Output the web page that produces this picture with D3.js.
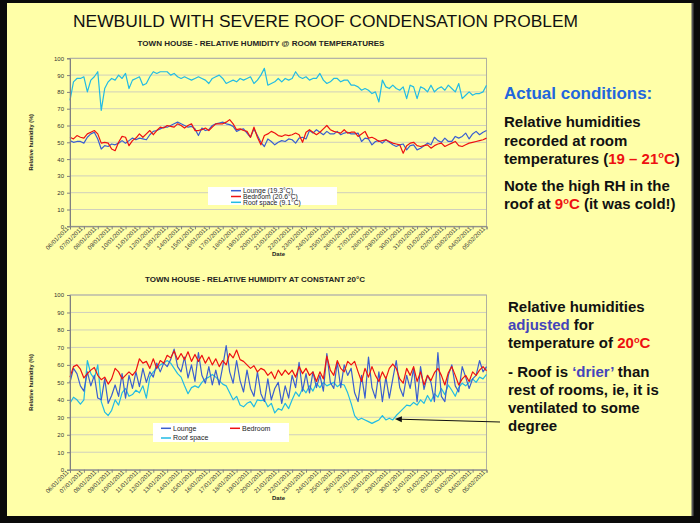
<!DOCTYPE html>
<html><head><meta charset="utf-8">
<script src="https://cdn.jsdelivr.net/npm/d3@7"></script>
<style>
body{margin:0;background:#000;}
svg{display:block;}
text{font-family:"Liberation Sans",Arial,Helvetica,sans-serif;}
</style>
</head><body>
<svg id="c" width="700" height="523"></svg>
<script>
// ---------------- DATA ----------------
// Readings every 6 hours from 06/01/2011 00:00 to 05/02/2011 00:00 (121 points)
const startDate = new Date(2011, 0, 6);
const endDate = new Date(2011, 1, 5);
const samplesPerDay = 4;
const yTicks = [0,10,20,30,40,50,60,70,80,90,100];

// Chart 1: relative humidity at room temperatures
const topLounge = [51,50,50.5,50.5, 49.5,53,55,56, 52,46,48,47.5, 49,48.5,49.5,51, 49.5,51,52.5,51.5,
  52.5,52,51.5,54.5, 56.5,57,58,59, 59,60,61,62, 61,60,59,59.5, 58,54,58.5,57,
  57.5,60,61,61.5, 62,61,60.5,59.5, 56.5,57.5,58,55.5, 53,58,54,50, 47.5,52,50.5,48.5,
  50,51,50.5,52, 51.5,49.5,52.5,53, 52,57,55.5,57.5, 56,54.5,56.5,55, 55,56.5,54.5,55.5,
  56,55,55,55.5, 50.5,52.5,52,48.5, 50.5,51,49.5,51.5, 50,48.5,47.5,48.5, 49,45.5,48,48.5,
  45.5,46.5,48,49.5, 48.5,53,51,50, 52.5,50.5,50.5,53.5, 52.5,53.5,55.5,52, 55,56.5,54.5,56, 57];
const topBedroom = [53,52,54,53, 52.5,55,56,57, 55,49.5,50,49.5, 46,45,50,53.5, 53,48,51,52.5,
  55,53,55,57, 54.5,57,59,58.5, 60,59.5,59,61, 60,58.5,60,61, 57,57,57.5,58.5,
  57,59,61,61, 61,62,63.5,61, 57.5,58,57,56.5, 53,59,53,48.5, 54,55,56.5,55.5,
  54,53.5,54.5,54, 54.5,55.5,54.5,50, 56,57.5,56,54.5, 56,58,60,57.5, 56.5,56,55.5,57.5,
  55.5,56,56,53.5, 55,56.5,52.5,53, 52,50.5,51,51.5, 50.5,49.5,49,48.5, 43.5,48,49.5,50,
  48,47.5,48,48.5, 46.5,48,49,49.5, 47.5,48.5,49.5,50.5, 48,47.5,48.5,49.5, 50,50.5,51,51.5, 52.5];
const topRoof = [75,86,88,88, 89,80,87,89, 92,69,82,86, 88,87,90,88, 91,82,87,88,
  89,84,85,89, 92,91,92,92, 92,90,91,89, 88,89,88,87, 88,89,88,87,
  85,88,89,90, 88,85,86,87, 86,88,87,88, 89,85,87,90, 94,84,85,86,
  88,86,88,87, 88,92,89,88, 89,87,88,88, 91,87,85,86, 88,88,86,87,
  87,84,84,83, 81,82,81,79, 80,74,87,83, 82,84,82,81, 83,76,84,83,
  76,83,82,80, 84,80,82,83, 81,84,82,80, 85,76,78,80, 78,79,79,80, 84];

// Chart 2: relative humidity adjusted to constant 20°C
const botLounge = [50,58,55,48, 45,56,48,54, 41,40,52,38, 42.5,48.5,42,55, 41,54,46.5,56,
  47.5,58,50,56, 53,61,56,61, 59,63,69,59, 56,64.5,52.5,60, 50.5,67,54,49.5,
  59,48.5,57,48.5, 59,71,56,49.5, 62.5,51,44.5,57, 46.5,42,56,43.5, 39,52,40,46.5,
  50,38,48,41, 54,47,61.5,45, 55,44,56,47, 54,45,66.5,50, 46.5,61.5,47,60,
  54,58,44,39, 54,41,64.5,47, 41,56,39,53, 41,52,62.5,47, 42,54,46.5,58,
  39,59,46,54, 50,39,67,42, 39,54,60,48, 44.5,59,53,46.5, 52,54,62.5,56, 59];
const botBedroom = [53,59,60,57.5, 52.5,55,57,58.5, 54,51.5,53,49, 52,58,56,52, 54,56,54,56.5,
  63.5,61,62,58, 63.5,58,62.5,61, 65.5,64,68,63, 66.5,63,67.5,62, 66,62,65.5,61,
  64.5,60,63.5,59, 62.5,60,66.5,64, 68.5,63,62,60, 58,59.5,56,58, 57,54,56,52,
  57,54,57,54.5, 57,53,59,55, 58,54,56,50.5, 56,52,65,57, 54,62.5,58,56,
  62,60,62,56, 50.5,58,53,59, 54,50.5,56,52, 58,60.5,58,52, 49.5,58,54,59,
  50.5,56,48.5,54, 51,55.5,58,54, 48.5,55.5,59,54, 48.5,52,54,50.5, 56,54,57,59, 56.5];
const botRoof = [38,41.5,40,37.5, 40,62.5,55,52, 60,39,33,31, 34,40,37,44, 46.5,42,43,45.5,
  44,48,41,53, 56,58,60,61, 62.5,61,58,55, 53,48,43.5,47, 48,47,50,52,
  53,54.5,53,51, 49,48,44,40, 42,37,36,38, 39,36,40,39.5, 40,36,38,32.5,
  35,34,38,35, 40,44.5,42,46.5, 44,48,45,49.5, 47,50,48,49, 50,47.5,49,48.5,
  44,38,31,28.5, 29.5,28.5,27.5,26.5, 27.5,28.5,31,28.5, 29.5,28.5,31,33, 35,37,36.5,38.5,
  37,40,38,42.5, 39,43.5,41.5,46.5, 43,48.5,45.5,42, 47,49.5,48,50, 52,50,53,52, 54.5];

const topLegend = ["Lounge (19.3°C)", "Bedroom (20.6°C)", "Roof space (9.1°C)"];
const botLegend = ["Lounge", "Bedroom", "Roof space"];
const seriesColors = ["#3a5fd0", "#ee1111", "#22bbe4"];

// ---------------- DRAW ----------------
const svg = d3.select("#c");
svg.append("rect").attr("x",0).attr("y",0).attr("width",700).attr("height",523).attr("fill","#0a0a0a");
svg.append("rect").attr("x",7).attr("y",3).attr("width",685).attr("height",513).attr("fill","#ffffa8");
svg.append("line").attr("x1",692.5).attr("x2",692.5).attr("y1",3).attr("y2",516).attr("stroke","#555").attr("stroke-width",2);

svg.append("text").attr("x",73).attr("y",27).attr("font-size",17.4).attr("fill","#111")
  .text("NEWBUILD WITH SEVERE ROOF CONDENSATION PROBLEM");

const toDate = i => new Date(startDate.getTime() + i * 86400000 / samplesPerDay);
const dayTicks = d3.timeDay.range(startDate, d3.timeDay.offset(endDate, 1));
const fmt = d3.timeFormat("%d/%m/%Y");

function drawChart(o) {
  const g = svg.append("g");
  const x = d3.scaleTime().domain([startDate, endDate]).range([70, 486.5]);
  const y = d3.scaleLinear().domain([0, 100]).range([o.bottom, o.top]);

  g.append("g").selectAll("line").data(yTicks.slice(1)).join("line")
    .attr("x1", 70).attr("x2", 486.5).attr("y1", d => y(d)).attr("y2", d => y(d))
    .attr("stroke", "#cbcbbf").attr("stroke-width", 0.9);
  g.append("rect").attr("x",70).attr("y",o.top).attr("width",416.5).attr("height",o.bottom-o.top)
    .attr("fill","none").attr("stroke","#a8a8a0").attr("stroke-width",0.9);

  const line = d3.line().x((d, i) => x(toDate(i))).y(d => y(d));
  o.series.forEach((s, k) => {
    g.append("path").datum(s).attr("d", line).attr("fill", "none")
      .attr("stroke", seriesColors[o.order[k]]).attr("stroke-width", 1.2).attr("stroke-linejoin","round");
  });

  const ya = g.append("g").attr("transform", "translate(70,0)")
    .call(d3.axisLeft(y).tickValues(yTicks).tickSize(3).tickPadding(3));
  ya.select(".domain").attr("stroke", "#808080");
  ya.selectAll(".tick line").attr("stroke", "#808080");
  ya.selectAll("text").attr("font-size", 6).attr("fill", "#333").attr("font-family", null);

  const xa = g.append("g").attr("transform", `translate(0,${o.bottom})`)
    .call(d3.axisBottom(x).tickValues(dayTicks).tickFormat(fmt).tickSize(3));
  xa.select(".domain").attr("stroke", "#808080");
  xa.selectAll(".tick line").attr("stroke", "#808080");
  xa.selectAll("text").attr("font-size", 6).attr("fill", "#333").attr("font-family", null)
    .attr("text-anchor", "end").attr("x", -3).attr("y", -1).attr("dy", "0.35em")
    .attr("transform", "rotate(-45)");

  g.append("text").attr("x", o.titleX).attr("y", o.titleY).attr("text-anchor", "middle")
    .attr("font-size", 8).attr("font-weight", "bold").attr("fill", "#222").text(o.title);
  g.append("text").attr("x", 278.5).attr("y", o.bottom + 30).attr("text-anchor", "middle")
    .attr("font-size", 6).attr("font-weight", "bold").attr("fill", "#222").text("Date");
  g.append("text").attr("transform", `translate(33,${(o.top + o.bottom) / 2}) rotate(-90)`)
    .attr("text-anchor", "middle").attr("font-size", 5.6).attr("font-weight", "bold").attr("fill", "#222")
    .text("Relative humidity (%)");

  const L = o.legend;
  g.append("rect").attr("x", L.x).attr("y", L.y).attr("width", L.w).attr("height", L.h).attr("fill", "#fff");
  L.items.forEach((it, k) => {
    g.append("line").attr("x1", it.x).attr("x2", it.x + 10).attr("y1", it.y).attr("y2", it.y)
      .attr("stroke", seriesColors[k]).attr("stroke-width", 1.5);
    g.append("text").attr("x", it.x + 12).attr("y", it.y + 2.3).attr("font-size", L.fs)
      .attr("fill", "#222").text(L.labels[k]);
  });
  return {x, y};
}

drawChart({
  top: 58.3, bottom: 226.3, title: "TOWN HOUSE - RELATIVE HUMIDITY @ ROOM TEMPERATURES",
  titleX: 261, titleY: 46,
  series: [topRoof, topLounge, topBedroom], order: [2, 0, 1],
  legend: {x: 208, y: 187, w: 129, h: 18, fs: 6.8, labels: topLegend,
    items: [{x: 231, y: 190.7}, {x: 231, y: 196.5}, {x: 231, y: 202.3}]}
});
const c2 = drawChart({
  top: 295, bottom: 469.7, title: "TOWN HOUSE - RELATIVE HUMIDITY AT CONSTANT 20°C",
  titleX: 255, titleY: 282,
  series: [botRoof, botLounge, botBedroom], order: [2, 0, 1],
  legend: {x: 153, y: 423, w: 136, h: 19, fs: 7, labels: botLegend,
    items: [{x: 161, y: 428.3}, {x: 230, y: 428.3}, {x: 161, y: 438}]}
});

// arrow pointing at the dry roof-space period
const tipX = c2.x(toDate(23.4 * samplesPerDay)), tipY = c2.y(29);
const tailX = 500, tailY = 422;
svg.append("line").attr("x1", tailX).attr("y1", tailY).attr("x2", tipX + 6).attr("y2", tipY + 0.2)
  .attr("stroke", "#111").attr("stroke-width", 1);
const ang = Math.atan2(tipY - tailY, tipX - tailX);
const ah = 7, aw = 3;
const p = [[tipX, tipY],
  [tipX - ah * Math.cos(ang) + aw * Math.sin(ang), tipY - ah * Math.sin(ang) - aw * Math.cos(ang)],
  [tipX - ah * Math.cos(ang) - aw * Math.sin(ang), tipY - ah * Math.sin(ang) + aw * Math.cos(ang)]];
svg.append("path").attr("d", d3.line()(p) + "Z").attr("fill", "#111");

// ---------------- RIGHT-HAND NOTES ----------------
const BLK = "#111", RED = "#ee1111", BLUE = "#2266dd", PURP = "#4444bb";
function rich(x, yb, segs, fs) {
  const t = svg.append("text").attr("x", x).attr("y", yb).attr("font-size", fs).attr("font-weight", "bold");
  const shift = fs * 0.38;
  let pending = 0;
  segs.forEach(s => {
    const ts = t.append("tspan").attr("fill", s.c).text(s.t);
    if (s.sup) {
      ts.attr("font-size", fs * 0.62).attr("dy", -shift);
      pending = shift;
    } else if (pending) {
      ts.attr("dy", pending);
      pending = 0;
    }
  });
}
rich(504, 98.5, [{t: "Actual conditions:", c: BLUE}], 17);
rich(504, 127, [{t: "Relative humidities", c: BLK}], 15);
rich(504, 145.5, [{t: "recorded at room", c: BLK}], 15);
rich(504, 164, [{t: "temperatures (", c: BLK}, {t: "19 – 21", c: RED}, {t: "o", c: RED, sup: true}, {t: "C", c: RED}, {t: ")", c: BLK}], 15);
rich(504, 190.7, [{t: "Note the high RH in the", c: BLK}], 15);
rich(504, 209.3, [{t: "roof at ", c: BLK}, {t: "9", c: RED}, {t: "o", c: RED, sup: true}, {t: "C", c: RED}, {t: " (it was cold!)", c: BLK}], 15);

rich(508, 312, [{t: "Relative humidities", c: BLK}], 15);
rich(508, 330, [{t: "adjusted", c: PURP}, {t: " for", c: BLK}], 15);
rich(508, 348.3, [{t: "temperature of ", c: BLK}, {t: "20", c: RED}, {t: "o", c: RED, sup: true}, {t: "C", c: RED}], 15);
rich(508, 376.7, [{t: "- Roof is ", c: BLK}, {t: "‘drier’", c: PURP}, {t: " than", c: BLK}], 15);
rich(508, 394.5, [{t: "rest of rooms, ie, it is", c: BLK}], 15);
rich(508, 412.7, [{t: "ventilated to some", c: BLK}], 15);
rich(508, 430.5, [{t: "degree", c: BLK}], 15);
</script>
</body></html>
